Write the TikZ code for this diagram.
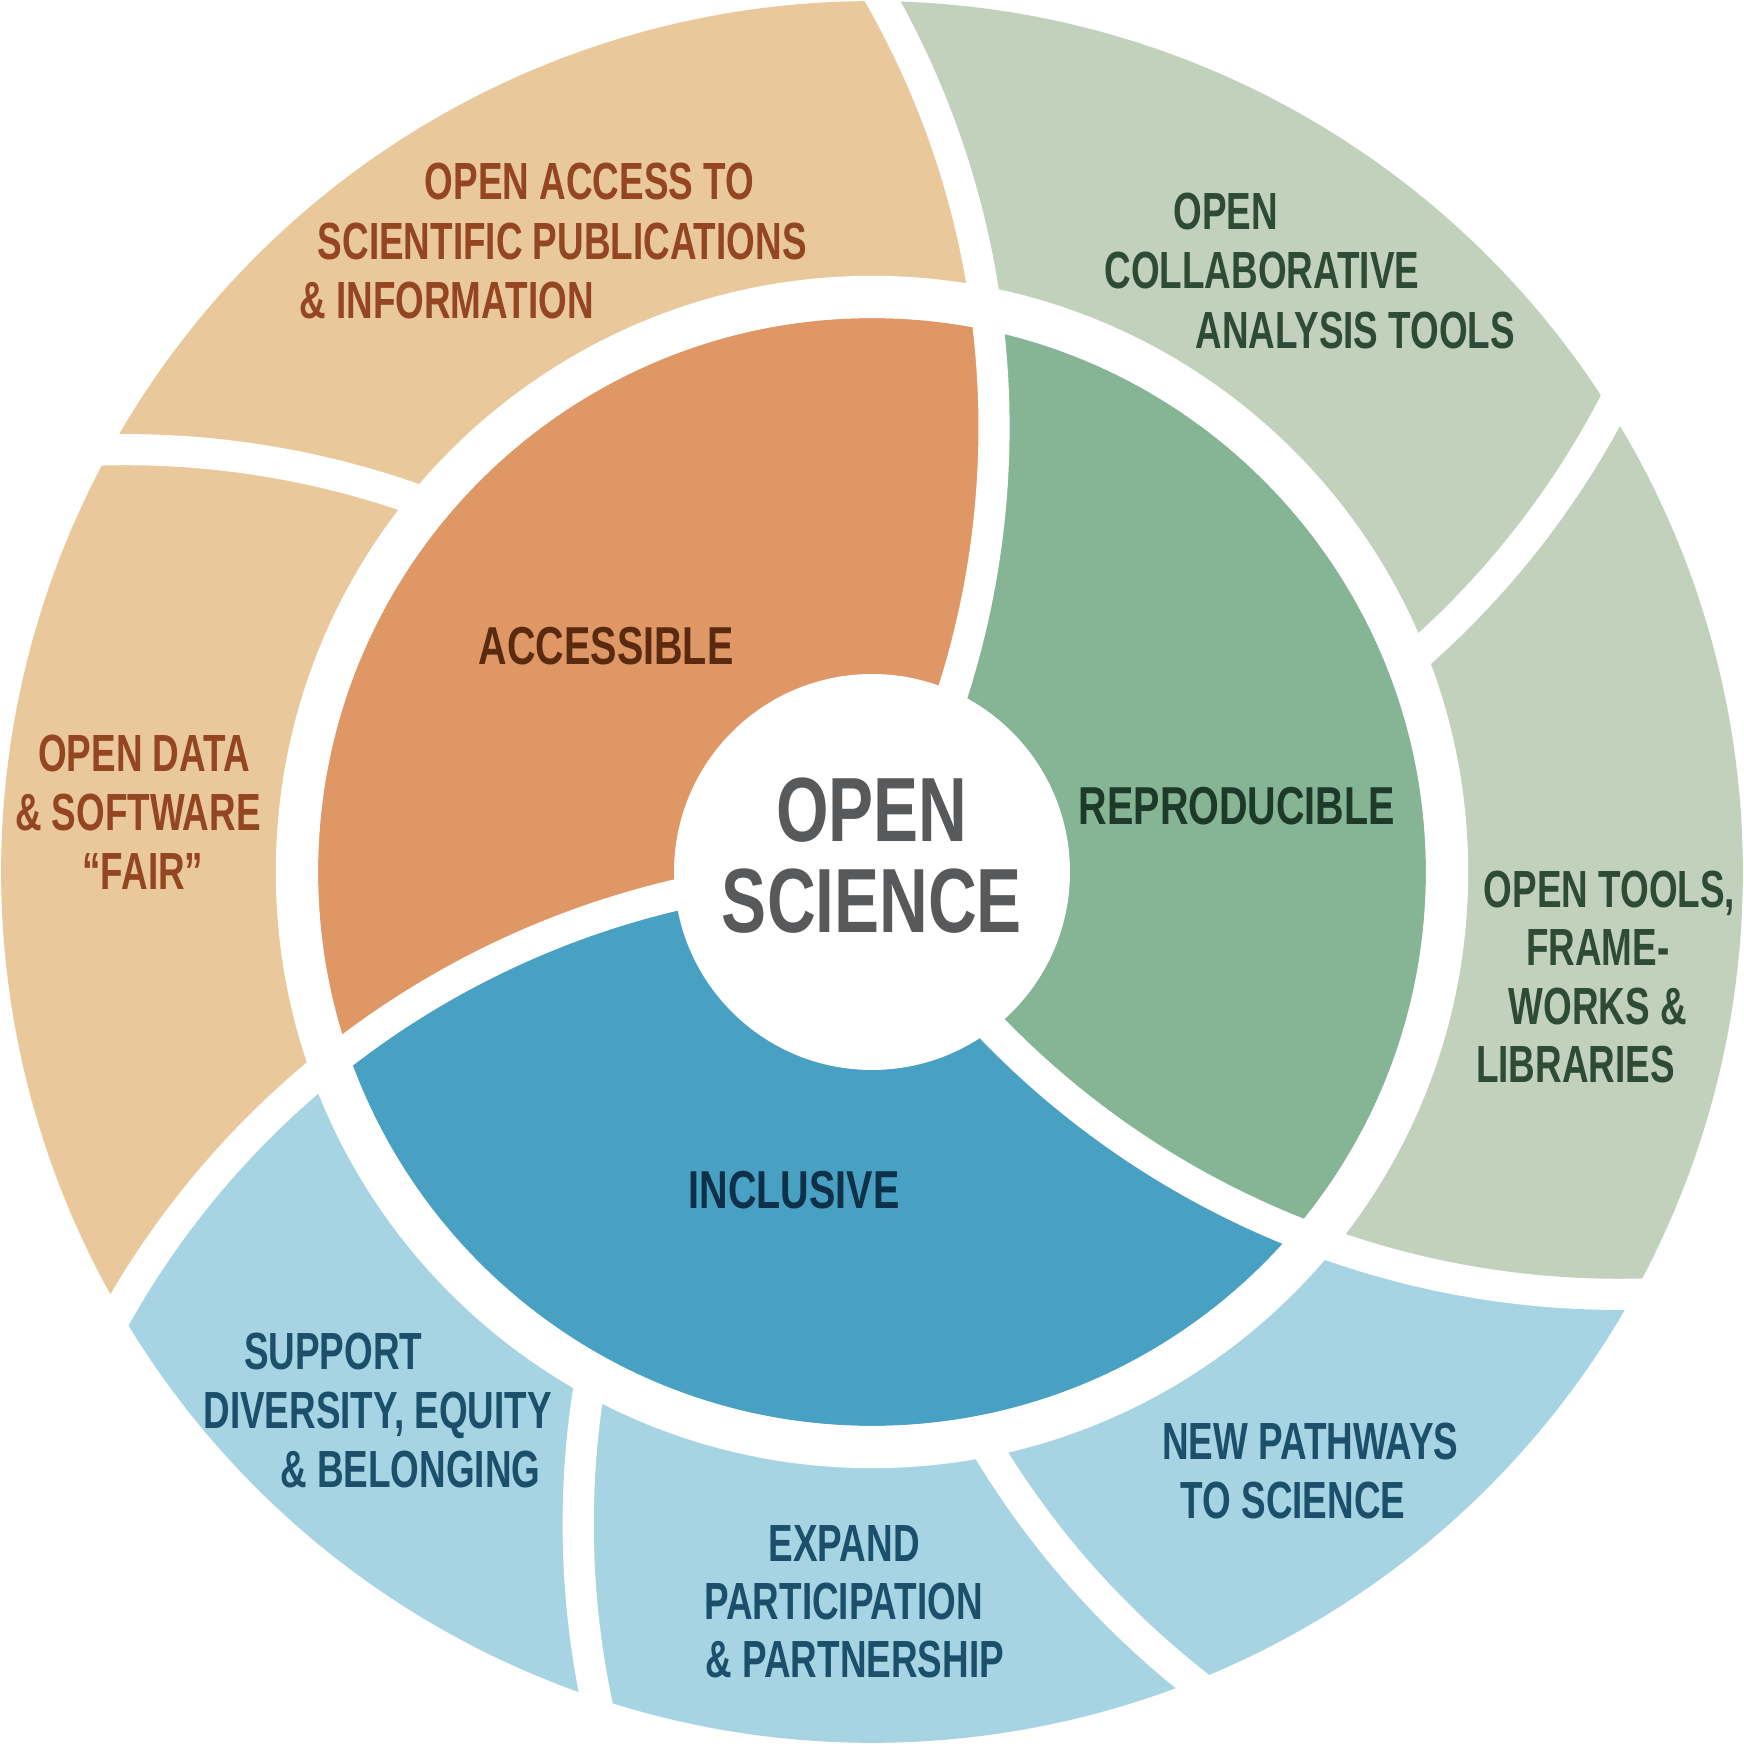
\documentclass[tikz,border=0pt]{standalone}
\usepackage{fontspec}
\newfontfamily\condb[FakeStretch=0.74]{Liberation Sans Bold}
\newfontfamily\condn[FakeStretch=0.705]{Liberation Sans Bold}

% ring colours
\definecolor{tanout}{HTML}{E9C99B}
\definecolor{greenout}{HTML}{C2D1BC}
\definecolor{blueout}{HTML}{A6D4E3}
\definecolor{orangemid}{HTML}{E09766}
\definecolor{greenmid}{HTML}{86B596}
\definecolor{bluemid}{HTML}{48A0C2}
% text colours
\definecolor{tantext}{HTML}{944522}
\definecolor{greentext}{HTML}{2E4B35}
\definecolor{bluetext}{HTML}{1B4F6A}
\definecolor{acctext}{HTML}{5A2A10}
\definecolor{reptext}{HTML}{1D3A28}
\definecolor{inctext}{HTML}{0E3048}
\definecolor{coretext}{HTML}{58595B}

\tikzset{
  % region between two spiral arms (arcs of radius R through the centre)
  region/.style 2 args={insert path={
    (0,0) arc[start angle={#1-90}, end angle={#1-30}, radius=783pt]
          arc[start angle={#1+30}, end angle={#2+30}, radius=783pt]
          arc[start angle={#2-30}, end angle={#2-90}, radius=783pt] -- cycle}},
  sep/.style={draw=white, line width=28pt},
  outerlbl/.style={anchor=base, inner sep=0pt, font=\condn\fontsize{47}{47}\selectfont},
  midlbl/.style={anchor=base, inner sep=0pt, font=\condb\fontsize{48}{48}\selectfont},
  corelbl/.style={anchor=base, inner sep=0pt, text=coretext, font=\condb\fontsize{82}{82}\selectfont},
}

\begin{document}
\begin{tikzpicture}[x=1pt,y=1pt]
\useasboundingbox[fill=white] (-784,-784) rectangle (784,784);

% outer ring sectors
\fill[greenout] [region={2}{59.3}];
\fill[tanout]   [region={59.3}{121}];
\fill[tanout]   [region={121}{180.2}];
\fill[blueout]  [region={180.2}{221.5}];
\fill[blueout]  [region={221.5}{261.6}];
\fill[blueout]  [region={261.6}{300.5}];
\fill[greenout] [region={300.5}{362}];

% middle ring sectors
\begin{scope}
  \clip (0,0) circle[radius=498pt];
  \fill[orangemid] [region={59.3}{180.2}];
  \fill[bluemid]   [region={180.2}{300.5}];
  \fill[greenmid]  [region={300.5}{419.3}];
\end{scope}

% white ring between the two rings
\fill[white, even odd rule] (0,0) circle[radius=536pt] circle[radius=498pt];

% spiral separators through both rings
\foreach \a in {59.3,180.2,301}
  \draw[sep] (0,0) arc[start angle={\a-90}, end angle={\a-26}, radius=783pt];
% separators of the outer ring only
\foreach \a in {2,121,221.5,261.6}
  \draw[sep] ({783*cos(\a+90)+783*cos(\a-52)},{783*sin(\a+90)+783*sin(\a-52)})
    arc[start angle={\a-52}, end angle={\a-26}, radius=783pt];

% centre disc
\fill[white] (0,0) circle[radius=178pt];

% centre title
\node[corelbl] (core1) at (0,27) {OPEN};
\node[corelbl] (core2) at (0,-54) {SCIENCE};

% middle ring labels
\node[midlbl, text=acctext] (acc) at (-239,186.5) {ACCESSIBLE};
\node[midlbl, text=reptext] (rep) at (328,42.5) {REPRODUCIBLE};
\node[midlbl, text=inctext] (inc) at (-70,-302.5) {INCLUSIVE};

% outer ring labels
\node[outerlbl, text=tantext] (oa1) at (-254,604.5) {OPEN ACCESS TO};
\node[outerlbl, text=tantext] (oa2) at (-278.5,550.5) {SCIENTIFIC PUBLICATIONS};
\node[outerlbl, text=tantext] (oa3) at (-382.5,497.5) {\& INFORMATION};

\node[outerlbl, text=greentext] (oc1) at (318,577.5) {OPEN};
\node[outerlbl, text=greentext] (oc2) at (350.5,524.5) {COLLABORATIVE};
\node[outerlbl, text=greentext] (oc3) at (434.5,470.5) {ANALYSIS TOOLS};

\node[outerlbl, text=tantext] (od1) at (-654.5,90.5) {OPEN DATA};
\node[outerlbl, text=tantext] (od2) at (-660,37.5) {\& SOFTWARE};
\node[outerlbl, text=tantext] (od3) at (-655.5,-15.5) {“FAIR”};

\node[outerlbl, text=greentext] (ot1) at (663,-31.5) {OPEN TOOLS,};
\node[outerlbl, text=greentext] (ot2) at (652.5,-84.5) {FRAME-};
\node[outerlbl, text=greentext] (ot3) at (652.5,-137.5) {WORKS \&};
\node[outerlbl, text=greentext] (ot4) at (632.5,-189.5) {LIBRARIES};

\node[outerlbl, text=bluetext] (sd1) at (-484.5,-447.5) {SUPPORT};
\node[outerlbl, text=bluetext] (sd2) at (-444.5,-500.5) {DIVERSITY, EQUITY};
\node[outerlbl, text=bluetext] (sd3) at (-415,-553.5) {\& BELONGING};

\node[outerlbl, text=bluetext] (ep1) at (-25,-619.5) {EXPAND};
\node[outerlbl, text=bluetext] (ep2) at (-25.5,-672.5) {PARTICIPATION};
\node[outerlbl, text=bluetext] (ep3) at (-15.5,-724.5) {\& PARTNERSHIP};

\node[outerlbl, text=bluetext] (np1) at (394,-528.5) {NEW PATHWAYS};
\node[outerlbl, text=bluetext] (np2) at (378.5,-581.5) {TO SCIENCE};
\end{tikzpicture}
\end{document}
